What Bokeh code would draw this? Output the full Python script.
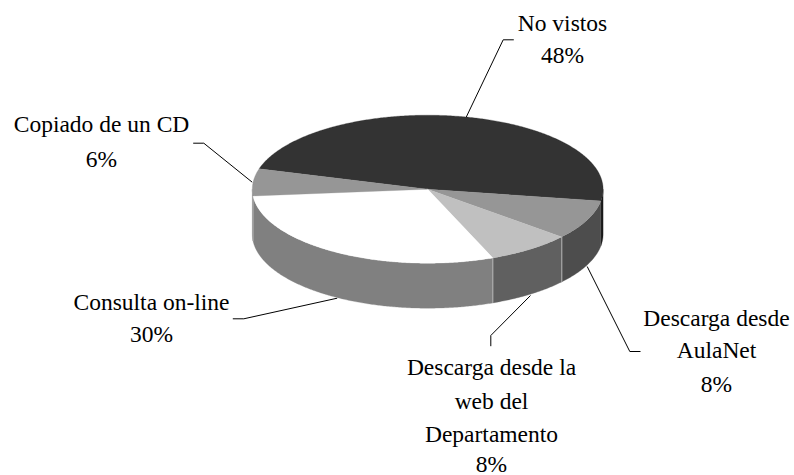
import math
from bokeh.plotting import figure
from bokeh.embed import file_html
from bokeh.resources import INLINE
from bokeh.core.properties import value

# Slice shares, clockwise from the far-left edge of the dark slice
slice_names = ["No vistos", "Descarga desde AulaNet", "Descarga web", "Consulta on-line", "Copiado de un CD"]
slice_values = [48.1, 8.6, 7.8, 29.6, 5.9]
top_colors = ["#333333", "#969696", "#c0c0c0", "#ffffff", "#969696"]
side_colors = ["#1a1a1a", "#4d4d4d", "#606060", "#808080", "#808080"]

label_lines = [
    ["No vistos", "48%"],
    ["Descarga desde", "AulaNet", "8%"],
    ["Descarga desde la", "web del", "Departamento", "8%"],
    ["Consulta on-line", "30%"],
    ["Copiado de un CD", "6%"],
]
label_x = [562, 716, 491, 151, 101]
label_y = [[22, 54], [317, 349, 383], [366, 400, 433, 463], [301, 333], [123, 158]]
leaders = [
    ([465.7, 502.7, 513.3], [116.7, 39.3, 39.3]),
    ([586.7, 629.3, 640], [266, 351, 351]),
    ([530, 490.3, 490.3], [295, 335, 345.7]),
    ([336.7, 243.3, 232.3], [297.7, 318.3, 318.3]),
    ([251.7, 203.3, 192.7], [181.7, 142.7, 142.7]),
]

W, H = 794, 475
CX, CY, RX, RY, DEPTH, START = 427.2, 188.7, 175.4, 74.0, 45.0, 196.0
FONT = "Liberation Serif"

p = figure(width=W, height=H, x_range=(0, W), y_range=(H, 0),
           output_backend="svg", toolbar_location=None, min_border=0)
p.xaxis.visible = False
p.yaxis.visible = False
p.grid.visible = False
p.outline_line_color = None


def pt(deg, dy=0.0):
    a = math.radians(deg)
    return CX + RX * math.cos(a), CY + RY * math.sin(a) + dy


def arc(a0, a1):
    n = max(2, int(abs(a1 - a0)) * 2)
    return [a0 + (a1 - a0) * i / n for i in range(n + 1)]


angles = [START]
for v in slice_values:
    angles.append(angles[-1] + v * 3.6)

# Leader lines sit under the pie
for xs, ys in leaders:
    p.line(xs, ys, line_color="#000000", line_width=1)

# Side walls: only the front half (0..180 deg, modulo 360) can be seen
for i, c in enumerate(side_colors):
    for shift in (0, -360):
        a0 = max(angles[i] + shift, 0)
        a1 = min(angles[i + 1] + shift, 180)
        if a1 <= a0:
            continue
        ts = arc(a0, a1)
        top = [pt(t) for t in ts]
        bot = [pt(t, DEPTH) for t in reversed(ts)]
        xs = [q[0] for q in top + bot]
        ys = [q[1] for q in top + bot]
        p.patch(xs, ys, fill_color=c, line_color=c, line_width=0.3)
        if a0 > 20:
            x0, y0 = pt(a0)
            p.line([x0, x0], [y0, y0 + DEPTH], line_color="#b4b4b4", line_width=1)

# Top faces
for i, c in enumerate(top_colors):
    ts = arc(angles[i], angles[i + 1])
    pts = [pt(t) for t in ts]
    xs = [CX] + [q[0] for q in pts]
    ys = [CY] + [q[1] for q in pts]
    p.patch(xs, ys, fill_color=c, line_color=c, line_width=0.3)

# Labels
for lines, x, ys in zip(label_lines, label_x, label_y):
    p.text([x] * len(lines), ys, text=lines, text_align="center", text_baseline="middle",
           text_font=value(FONT), text_font_size="23.5px", text_color="#000000")

open("out.html", "w").write(file_html(p, INLINE))
